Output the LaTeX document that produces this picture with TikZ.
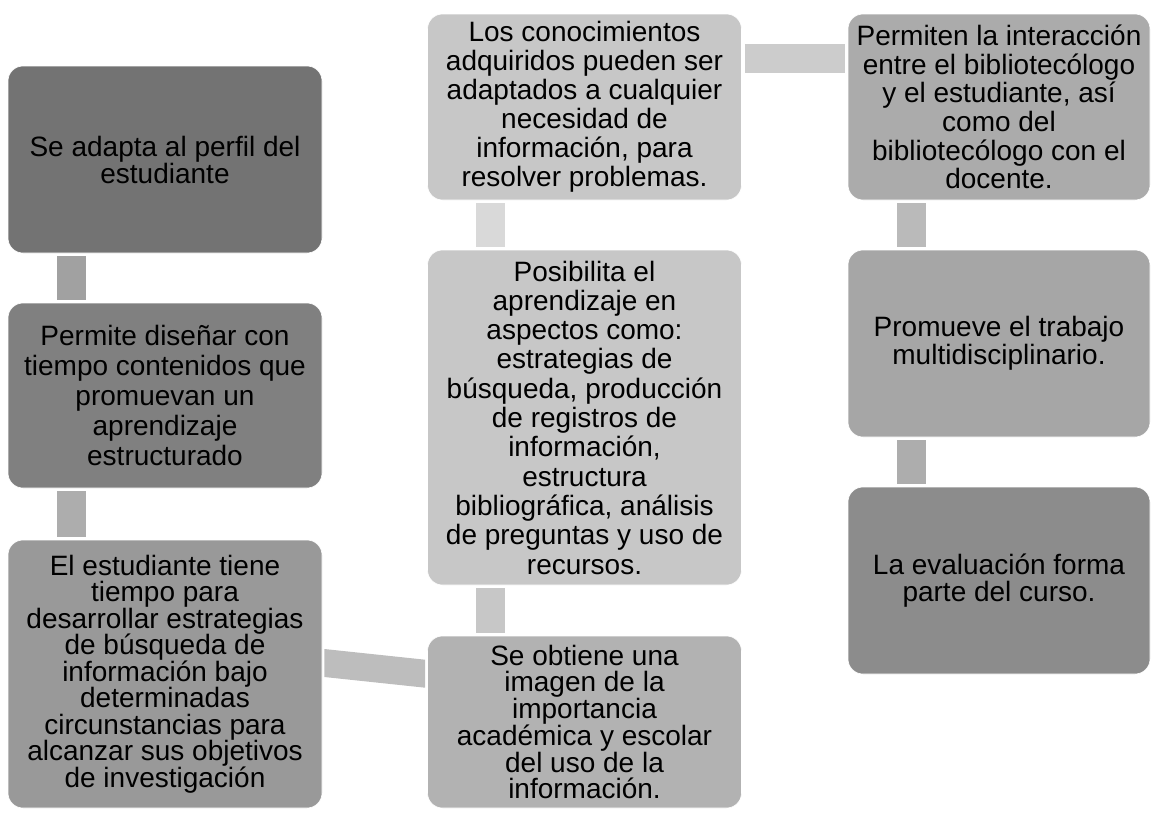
\documentclass[tikz,border=0pt]{standalone}
\usepackage{fontspec}
\setmainfont{Liberation Sans}
\begin{document}
\begin{tikzpicture}[x=1pt,y=-1pt,
  interlin/.style={font=\fontsize{28}{#1}\selectfont},
  every node/.style={interlin=30},
  caja/.style={draw=white,line width=0.6pt,rounded corners=15pt,minimum width=314pt,inner sep=1pt,align=center},
  barra/.style={line width=29pt,shorten <=3pt,shorten >=3pt}]
  \useasboundingbox (0,0) rectangle (1151,819);
  % left column
  \node[caja,interlin=27,fill=black!55,minimum height=187pt] (perfil) at (165,159.5) {Se adapta al perfil del\\ estudiante};
  \node[caja,fill=black!50,minimum height=185pt] (disenar) at (165,395.5) {Permite diseñar con\\ tiempo contenidos que\\ promuevan un\\ aprendizaje\\ estructurado};
  \node[caja,interlin=26.5,fill=black!40,minimum height=268pt] (tiempo) at (165,674) {El estudiante tiene\\ tiempo para\\ desarrollar estrategias\\ de búsqueda de\\ información bajo\\ determinadas\\ circunstancias para\\ alcanzar sus objetivos\\ de investigación};
  % middle column
  \node[caja,interlin=26,fill=black!30,minimum height=172pt] (imagen) at (584.5,722) {Se obtiene una\\ imagen de la\\ importancia\\ académica y escolar\\ del uso de la\\ información.};
  \node[caja,interlin=29.3,fill=black!22,minimum height=335pt] (posibilita) at (584.5,417.5) {Posibilita el\\ aprendizaje en\\ aspectos como:\\ estrategias de\\ búsqueda, producción\\ de registros de\\ información,\\ estructura\\ bibliográfica, análisis\\ de preguntas y uso de\\ recursos.};
  \node[caja,interlin=29,fill=black!22,minimum height=186pt] (conocim) at (584.5,107) {Los conocimientos\\ adquiridos pueden ser\\ adaptados a cualquier\\ necesidad de\\ información, para\\ resolver problemas.};
  % right column
  \node[caja,interlin=28.6,fill=black!33,minimum width=302pt,minimum height=186pt] (interacc) at (999,107) {Permiten la interacción\\ entre el bibliotecólogo\\ y el estudiante, así\\ como del\\ bibliotecólogo con el\\ docente.};
  \node[caja,interlin=28,fill=black!35,minimum width=302pt,minimum height=187pt] (multidis) at (999,343.5) {Promueve el trabajo\\ multidisciplinario.};
  \node[caja,interlin=27,fill=black!45,minimum width=302pt,minimum height=187pt] (evalua) at (999,580.5) {La evaluación forma\\ parte del curso.};
  % bars
  \draw[barra,black!37] ([xshift=63.5]perfil.south west) -- ([xshift=63.5]disenar.north west);
  \draw[barra,black!32] ([xshift=63.5]disenar.south west) -- ([xshift=63.5]tiempo.north west);
  \fill[black!26] ([xshift=2,yshift=25]tiempo.east) -- ([xshift=-2,yshift=-24]imagen.north west)
    -- ([xshift=-2,yshift=-52]imagen.north west) -- ([xshift=2,yshift=-3]tiempo.east) -- cycle;
  \draw[barra,black!22] ([xshift=63.5]imagen.north west) -- ([xshift=63.5]posibilita.south west);
  \draw[barra,black!15] ([xshift=63.5]posibilita.north west) -- ([xshift=63.5]conocim.south west);
  \draw[barra,black!20] ([yshift=-45]conocim.north east) -- ([yshift=-45]interacc.north west);
  \draw[barra,black!27] ([xshift=63.5]interacc.south west) -- ([xshift=63.5]multidis.north west);
  \draw[barra,black!32] ([xshift=63.5]multidis.south west) -- ([xshift=63.5]evalua.north west);
\end{tikzpicture}
\end{document}
